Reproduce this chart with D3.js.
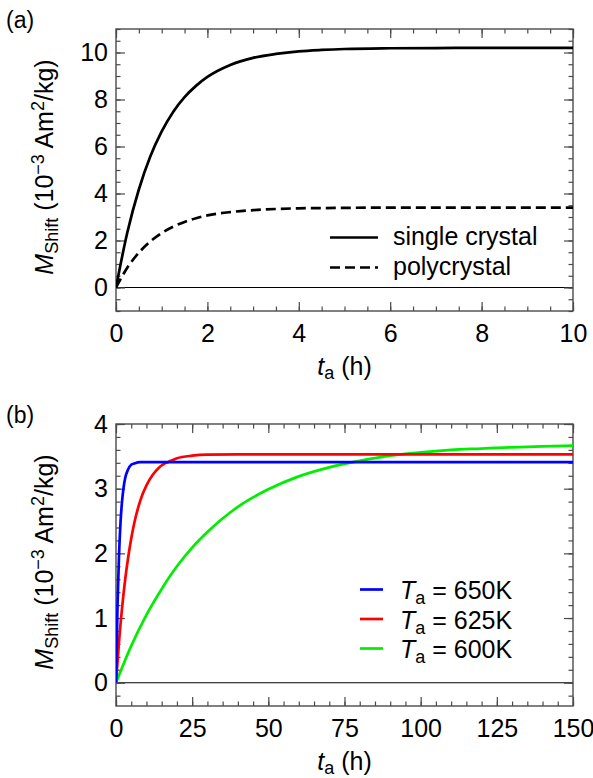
<!DOCTYPE html>
<html>
<head>
<meta charset="utf-8">
<script src="https://cdn.jsdelivr.net/npm/d3@7/dist/d3.min.js"></script>
<style>
  html, body { margin: 0; padding: 0; background: #fff; }
  svg { display: block; font-family: "Liberation Sans", Arial, sans-serif; }
</style>
</head>
<body>
<svg id="fig" width="593" height="778"></svg>
<script>
// ---- Panel (a): magnetization shift vs annealing time ----
const timeA = [0, 0.25, 0.5, 0.75, 1, 1.25, 1.5, 1.75, 2, 2.5, 3, 3.5, 4, 4.5, 5, 6, 7, 8, 10];
const singleCrystal = [0, 2.36, 4.17, 5.57, 6.64, 7.47, 8.10, 8.58, 8.96, 9.47, 9.77, 9.94, 10.05, 10.11, 10.15, 10.18, 10.19, 10.2, 10.2];
const polycrystal = [0, 0.85, 1.48, 1.96, 2.32, 2.59, 2.79, 2.95, 3.07, 3.21, 3.29, 3.34, 3.37, 3.38, 3.39, 3.40, 3.40, 3.40, 3.40];
const xTicksA = [0, 2, 4, 6, 8, 10];
const yTicksA = [0, 2, 4, 6, 8, 10];
const legendA = ["single crystal", "polycrystal"];

// ---- Panel (b): three annealing temperatures ----
const time650 = [0, 0.5, 1, 1.5, 2, 2.5, 3, 4, 5, 6, 8, 10, 150];
const shift650 = [0, 1.20, 1.98, 2.49, 2.81, 3.02, 3.16, 3.30, 3.37, 3.39, 3.41, 3.41, 3.41];
const time625 = [0, 1, 2, 3, 4, 5, 6, 8, 10, 12, 14, 16, 18, 20, 25, 30, 40, 150];
const shift625 = [0, 0.64, 1.16, 1.59, 1.94, 2.23, 2.47, 2.82, 3.05, 3.21, 3.32, 3.39, 3.43, 3.47, 3.51, 3.525, 3.53, 3.53];
const time600 = [0, 5, 10, 15, 20, 25, 30, 40, 50, 60, 70, 80, 90, 100, 110, 120, 130, 140, 150];
const shift600 = [0, 0.57, 1.05, 1.45, 1.80, 2.09, 2.33, 2.72, 2.99, 3.19, 3.33, 3.43, 3.51, 3.56, 3.60, 3.62, 3.64, 3.655, 3.665];
const xTicksB = [0, 25, 50, 75, 100, 125, 150];
const yTicksB = [0, 1, 2, 3, 4];
const legendB = ["650K", "625K", "600K"];
const colorsB = ["#0000ff", "#ff0000", "#00ee00"];

const svg = d3.select("#fig");
const FONT = 25;
const SUB = 18;
const frameColor = "#4a4a4a";

function zip(xs, ys) { return xs.map((x, i) => [x, ys[i]]); }

function range(a, b, step) {
  const out = [];
  for (let v = a; v <= b + 1e-9; v += step) out.push(+v.toFixed(6));
  return out;
}

function drawFrame(g, x, y, cfg) {
  const [x0, x1] = x.range();
  const [y0, y1] = y.range();
  const h = y0 - y1, w = x1 - x0;

  // zero reference line
  g.append("line")
    .attr("x1", x0).attr("x2", x1)
    .attr("y1", y(0)).attr("y2", y(0))
    .attr("stroke", "#000").attr("stroke-width", 1.1);

  const styleAxis = sel => {
    sel.select(".domain").remove();
    sel.selectAll(".tick line").attr("stroke", frameColor).attr("stroke-width", 1.2);
    sel.selectAll("text").attr("font-size", FONT).attr("fill", "#000").attr("font-family", "Liberation Sans, Arial, sans-serif");
  };

  // minor ticks on all four sides
  const minorX = cfg.minorX, minorY = cfg.minorY;
  g.append("g").attr("transform", `translate(0,${y0})`)
    .call(d3.axisBottom(x).tickValues(minorX).tickSize(-4.5).tickFormat(""))
    .call(styleAxis);
  g.append("g").attr("transform", `translate(0,${y1})`)
    .call(d3.axisTop(x).tickValues(minorX).tickSize(-4.5).tickFormat(""))
    .call(styleAxis);
  g.append("g").attr("transform", `translate(${x0},0)`)
    .call(d3.axisLeft(y).tickValues(minorY).tickSize(-4.5).tickFormat(""))
    .call(styleAxis);
  g.append("g").attr("transform", `translate(${x1},0)`)
    .call(d3.axisRight(y).tickValues(minorY).tickSize(-4.5).tickFormat(""))
    .call(styleAxis);

  // major ticks with labels
  g.append("g").attr("transform", `translate(0,${y0})`)
    .call(d3.axisBottom(x).tickValues(cfg.xTicks).tickSize(-9).tickPadding(13).tickFormat(d3.format("d")))
    .call(styleAxis)
    .call(s => s.selectAll("text").attr("dy", "0.71em"));
  g.append("g").attr("transform", `translate(0,${y1})`)
    .call(d3.axisTop(x).tickValues(cfg.xTicks).tickSize(-9).tickFormat(""))
    .call(styleAxis);
  g.append("g").attr("transform", `translate(${x0},0)`)
    .call(d3.axisLeft(y).tickValues(cfg.yTicks).tickSize(-9).tickPadding(8).tickFormat(d3.format("d")))
    .call(styleAxis);
  g.append("g").attr("transform", `translate(${x1},0)`)
    .call(d3.axisRight(y).tickValues(cfg.yTicks).tickSize(-9).tickFormat(""))
    .call(styleAxis);

  // frame
  g.append("rect")
    .attr("x", x0).attr("y", y1).attr("width", w).attr("height", h)
    .attr("fill", "none").attr("stroke", frameColor).attr("stroke-width", 1.4);

  // x title: t_a (h)
  const xt = g.append("text")
    .attr("x", (x0 + x1) / 2).attr("y", y0 + 64)
    .attr("text-anchor", "middle").attr("font-size", FONT);
  xt.append("tspan").attr("font-style", "italic").text("t");
  xt.append("tspan").attr("font-size", SUB).attr("dy", 4).text("a");
  xt.append("tspan").attr("dy", -4).text(" (h)");

  // y title: M_Shift (10^-3 Am^2/kg)
  const yt = g.append("text")
    .attr("transform", `translate(53,${(y0 + y1) / 2 - 3}) rotate(-90)`)
    .attr("text-anchor", "middle").attr("font-size", FONT);
  yt.append("tspan").attr("font-style", "italic").text("M");
  yt.append("tspan").attr("font-size", SUB).attr("dy", 5).text("Shift");
  yt.append("tspan").attr("dy", -5).text(" (10");
  yt.append("tspan").attr("font-size", SUB).attr("dy", -9).text("\u22123");
  yt.append("tspan").attr("dy", 9).text(" Am");
  yt.append("tspan").attr("font-size", SUB).attr("dy", -9).text("2");
  yt.append("tspan").attr("dy", 9).text("/kg)");

  // panel label
  g.append("text").attr("x", 6).attr("y", y1 - 1.5)
    .attr("font-size", 23).text(cfg.label);
}

// ---------- Panel (a) ----------
{
  const x = d3.scaleLinear().domain([0, 10]).range([116, 573]);
  const y = d3.scaleLinear().domain([-1, 11]).range([311, 29]);
  const g = svg.append("g");

  const clipId = "clipA";
  g.append("clipPath").attr("id", clipId).append("rect")
    .attr("x", 116).attr("y", 29).attr("width", 457).attr("height", 282);

  drawFrame(g, x, y, {
    xTicks: xTicksA, yTicks: yTicksA,
    minorX: range(0, 10, 0.5), minorY: range(-1, 11, 0.5),
    label: "(a)"
  });

  const line = d3.line().x(d => x(d[0])).y(d => y(d[1])).curve(d3.curveMonotoneX);
  const curves = g.append("g").attr("clip-path", `url(#${clipId})`);
  curves.append("path").datum(zip(timeA, singleCrystal))
    .attr("d", line).attr("fill", "none").attr("stroke", "#000").attr("stroke-width", 2.7);
  curves.append("path").datum(zip(timeA, polycrystal))
    .attr("d", line).attr("fill", "none").attr("stroke", "#000").attr("stroke-width", 2.7)
    .attr("stroke-dasharray", "10,5");

  // legend
  const lg = g.append("g");
  legendA.forEach((name, i) => {
    const ly = 237.5 + i * 30;
    lg.append("line").attr("x1", 330).attr("x2", 378).attr("y1", ly).attr("y2", ly)
      .attr("stroke", "#000").attr("stroke-width", 2.7)
      .attr("stroke-dasharray", i === 1 ? "10,5" : null);
    lg.append("text").attr("x", 393).attr("y", ly + 7.5).attr("font-size", FONT).text(name);
  });
}

// ---------- Panel (b) ----------
{
  const x = d3.scaleLinear().domain([0, 150]).range([116, 573]);
  const y = d3.scaleLinear().domain([-0.36, 4]).range([706, 424]);
  const g = svg.append("g");

  const clipId = "clipB";
  g.append("clipPath").attr("id", clipId).append("rect")
    .attr("x", 116).attr("y", 424).attr("width", 457).attr("height", 282);

  drawFrame(g, x, y, {
    xTicks: xTicksB, yTicks: yTicksB,
    minorX: range(0, 150, 5), minorY: range(-0.2, 4, 0.2),
    label: "(b)"
  });

  const line = d3.line().x(d => x(d[0])).y(d => y(d[1])).curve(d3.curveMonotoneX);
  const series = [zip(time650, shift650), zip(time625, shift625), zip(time600, shift600)];
  const curves = g.append("g").attr("clip-path", `url(#${clipId})`);
  // green drawn first, blue on top
  [2, 1, 0].forEach(i => {
    curves.append("path").datum(series[i])
      .attr("d", line).attr("fill", "none").attr("stroke", colorsB[i]).attr("stroke-width", 2.7);
  });

  // legend
  const lg = g.append("g");
  legendB.forEach((name, i) => {
    const ly = 589.5 + i * 29.5;
    lg.append("line").attr("x1", 360).attr("x2", 383).attr("y1", ly).attr("y2", ly)
      .attr("stroke", colorsB[i]).attr("stroke-width", 2.7);
    const t = lg.append("text").attr("x", 400).attr("y", ly + 9.5).attr("font-size", FONT);
    t.append("tspan").attr("font-style", "italic").text("T");
    t.append("tspan").attr("font-size", SUB).attr("dy", 5).text("a");
    t.append("tspan").attr("dy", -5).text(" = " + name);
  });
}
</script>
</body>
</html>
